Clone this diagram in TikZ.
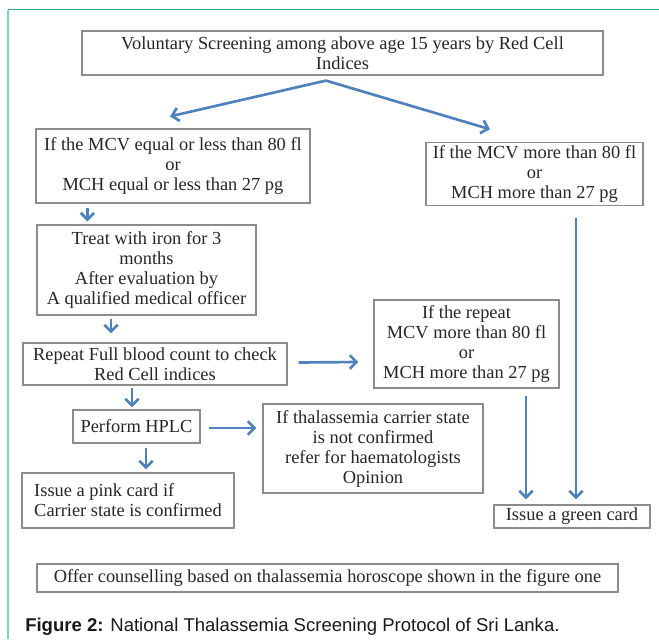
\documentclass[tikz,border=0pt]{standalone}
\usepackage{fontspec}
\setmainfont{Liberation Serif}
\newfontfamily\capfont{Liberation Sans}
\usepackage{tikz}
\usetikzlibrary{calc,arrows.meta}
\definecolor{arrblue}{HTML}{4F81BD}
\definecolor{boxgray}{HTML}{8C8C8C}
\definecolor{frametop}{HTML}{2BA98C}
\definecolor{frameleft}{HTML}{72D9C9}

\begin{document}
\begin{tikzpicture}[x=0.75pt,y=-0.75pt,
      box/.style={
            draw=boxgray, line width=0.9pt,
            align=center, inner sep=2pt, text=black!85,
            font=\fontsize{13.8}{15}\selectfont
        },
      arr/.style={
            draw=arrblue, line width=2pt,
            -{Straight Barb[length=5pt,width=10pt]}
        }
      ]
    \useasboundingbox (0,0) rectangle (659,639);
    \draw[frametop,line width=1.2pt] (8,9.5) -- (659,9.5);
    \draw[frameleft,line width=1.5pt] (8,9.5) -- (8,639);

    \node[box,minimum width=390.75pt,minimum height=33pt] (screen) at (342.5,53)
        {Voluntary Screening among above age 15 years by Red Cell\\ Indices};
    \node[box,minimum width=205.5pt,minimum height=55.5pt] (low) at (173,166)
        {If the MCV equal or less than 80 fl\\ or\\ MCH equal or less than 27 pg};
    \node[box,minimum width=162.75pt,minimum height=46.5pt] (high) at (534.5,174)
        {If the MCV more than 80 fl\\ or\\ MCH more than 27 pg};
    \node[box,minimum width=164.25pt,minimum height=67.5pt] (iron) at (146.5,270)
        {Treat with iron for 3\\ months\\ After evaluation by\\ A qualified medical officer};
    \node[box,minimum width=198pt,minimum height=31.5pt] (fbc) at (155,364)
        {Repeat Full blood count to check\\ Red Cell indices};
    \node[box,minimum width=138.75pt,minimum height=66pt] (rpt) at (466.5,344)
        {If the repeat\\ MCV more than 80 fl\\ or\\ MCH more than 27 pg};
    \node[box,minimum width=95.25pt,minimum height=24.75pt] (hplc) at (136.5,426.5)
        {Perform HPLC};
    \node[box,minimum width=165pt,minimum height=66.75pt] (thal) at (373,448.5)
        {If thalassemia carrier state\\ is not confirmed\\ refer for haematologists\\ Opinion};
    \node[box,align=left,minimum width=159pt,minimum height=41.25pt] (pink) at (128,500.5)
        {Issue a pink card if\\ Carrier state is confirmed};
    \node[box,minimum width=117pt,minimum height=17.25pt] (green) at (572,516.5)
        {Issue a green card};
    \node[box,minimum width=435.75pt,minimum height=21pt] (advice) at (327.5,578)
        {Offer counselling based on thalassemia horoscope shown in the figure one};

    \node[anchor=west,inner sep=0pt,text=black!90,font=\capfont\fontsize{13.9}{15}\selectfont] (caption) at (25,627)
        {\textbf{Figure 2:} National Thalassemia Screening Protocol of Sri Lanka.};

    \coordinate (split) at ($(screen.south)+(-16.5,5)$);
    \draw[arr] (split) -- ($(low.north)+(-3,-12)$);
    \draw[arr] (split) -- ($(high.north)+(-44.5,-13)$);
    \draw[arr] ($(low.south west)+(52,4)$) -- ($(iron.north west)+(51,-3)$);
    \draw[arr] ($(iron.south)+(-35.5,3)$) -- ($(fbc.north)+(-44,-9)$);
    \draw[arr] ($(fbc.east)+(11,-1.5)$) -- ($(rpt.west)+(-15,18)$);
    \draw[arr] ($(fbc.south)+(-23,2)$) -- ($(hplc.north)+(-4.5,-2)$);
    \draw[arr] ($(hplc.east)+(8,1.5)$) -- ($(thal.west)+(-6,-20.5)$);
    \draw[arr] ($(hplc.south)+(9.5,4)$) -- ($(pink.north)+(18,-3)$);
    \draw[arr] ($(rpt.south)+(59.5,7)$) -- ($(green.north)+(-46,-5)$);
    \draw[arr] ($(high.south)+(41.5,12)$) -- ($(green.north)+(4,-5)$);
  \end{tikzpicture}
\end{document}
